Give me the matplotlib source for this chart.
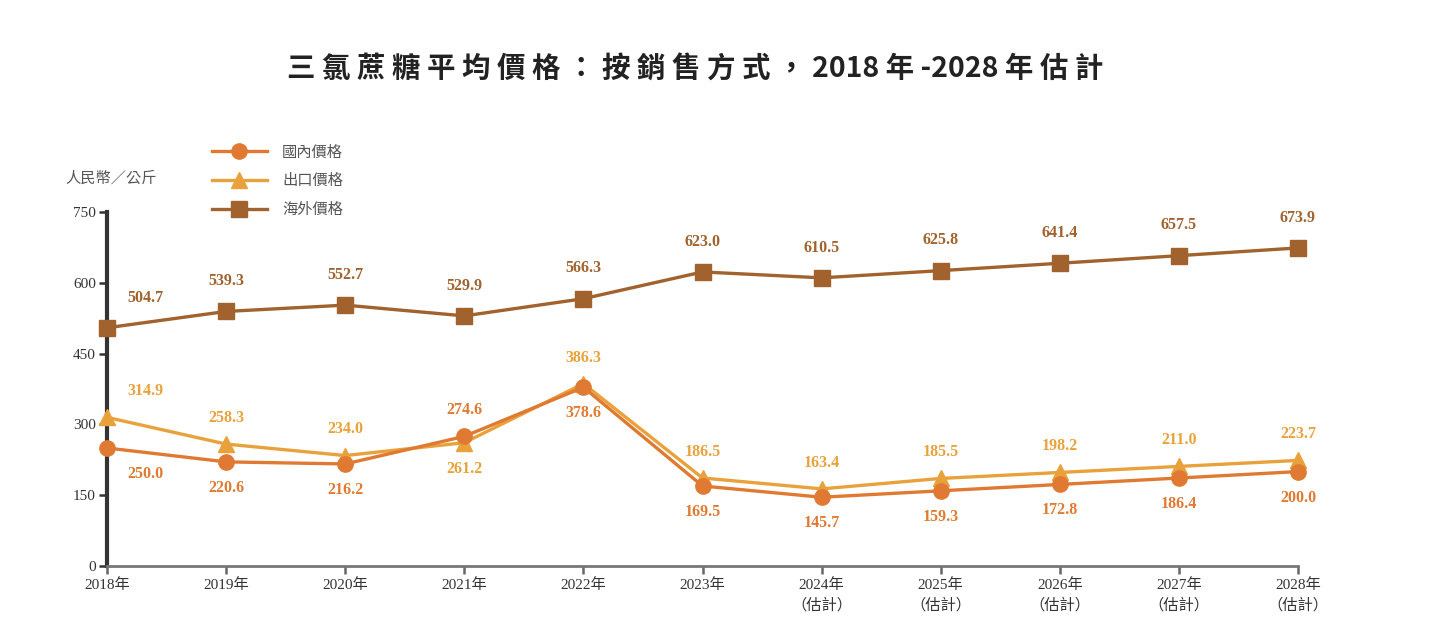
import matplotlib.pyplot as plt

plt.rcParams["font.family"] = ["Liberation Serif", "Noto Sans CJK TC"]

years = ["2018年", "2019年", "2020年", "2021年", "2022年", "2023年",
         "2024年\n（估計）", "2025年\n（估計）", "2026年\n（估計）",
         "2027年\n（估計）", "2028年\n（估計）"]
domestic = [250.0, 220.6, 216.2, 274.6, 378.6, 169.5, 145.7, 159.3, 172.8, 186.4, 200.0]
export = [314.9, 258.3, 234.0, 261.2, 386.3, 186.5, 163.4, 185.5, 198.2, 211.0, 223.7]
overseas = [504.7, 539.3, 552.7, 529.9, 566.3, 623.0, 610.5, 625.8, 641.4, 657.5, 673.9]
y_ticks = [0, 150, 300, 450, 600, 750]

c_dom = "#E07A32"
c_exp = "#E9A23B"
c_ovs = "#A1622E"

fig = plt.figure(figsize=(14.39, 6.42), dpi=100)
ax = fig.add_axes([107 / 1439, 1 - 566 / 642, (1298 - 107) / 1439, 354 / 642])

x = list(range(len(years)))
ax.plot(x, domestic, color=c_dom, lw=2.4, marker="o", ms=11, clip_on=False, zorder=4, label="國內價格")
ax.plot(x, export, color=c_exp, lw=2.4, marker="^", ms=11, clip_on=False, zorder=3, label="出口價格")
ax.plot(x, overseas, color=c_ovs, lw=2.4, marker="s", ms=11, clip_on=False, zorder=3, label="海外價格")

lab_kw = dict(fontsize=11.5, fontweight="bold", ha="center")
for i in x:
    dx = 28 if i == 0 else 0
    # overseas above
    ax.annotate(f"{overseas[i]:.1f}", (i, overseas[i]), xytext=(dx, 16), textcoords="offset points",
                color=c_ovs, va="bottom", **lab_kw)
    dom_up = i == 3
    exp_up = i != 3
    ax.annotate(f"{domestic[i]:.1f}", (i, domestic[i]),
                xytext=(dx, 13 if dom_up else -13), textcoords="offset points",
                color=c_dom, va="bottom" if dom_up else "top", **lab_kw)
    ax.annotate(f"{export[i]:.1f}", (i, export[i]),
                xytext=(dx, 13 if exp_up else -13), textcoords="offset points",
                color=c_exp, va="bottom" if exp_up else "top", **lab_kw)

ax.set_xlim(0, 10)
ax.set_ylim(0, 750)
ax.set_yticks(y_ticks)
ax.set_xticks(x)
ax.set_xticklabels(years, fontsize=11, color="#333333", linespacing=1.45)
ax.tick_params(axis="y", labelsize=11, colors="#333333", length=6, width=1.8, pad=2)
ax.tick_params(axis="x", length=6, width=1.8, color="#666666", pad=3)
for s in ["top", "right"]:
    ax.spines[s].set_visible(False)
ax.spines["left"].set_linewidth(3)
ax.spines["left"].set_color("#333333")
ax.spines["bottom"].set_linewidth(2)
ax.spines["bottom"].set_color("#777777")

fig.text(65 / 1439, 1 - 178 / 642, "人民幣／公斤", fontsize=11, color="#555555", va="center")

leg = fig.legend(loc="upper left", bbox_to_anchor=(198 / 1439, 1 - 132 / 642), frameon=False,
                 fontsize=11, handlelength=3.6, labelspacing=0.95, handletextpad=1.0)
for t in leg.get_texts():
    t.set_color("#555555")

fig.text(0.483, 1 - 70 / 642, "三 氯 蔗 糖 平 均 價 格 ： 按 銷 售 方 式 ， 2018 年 -2028 年 估 計",
         fontsize=20.5, fontweight="bold", color="#222222", ha="center", va="center",
         family=["Noto Sans CJK TC", "DejaVu Sans"])

fig.savefig("out.png", dpi=100)
